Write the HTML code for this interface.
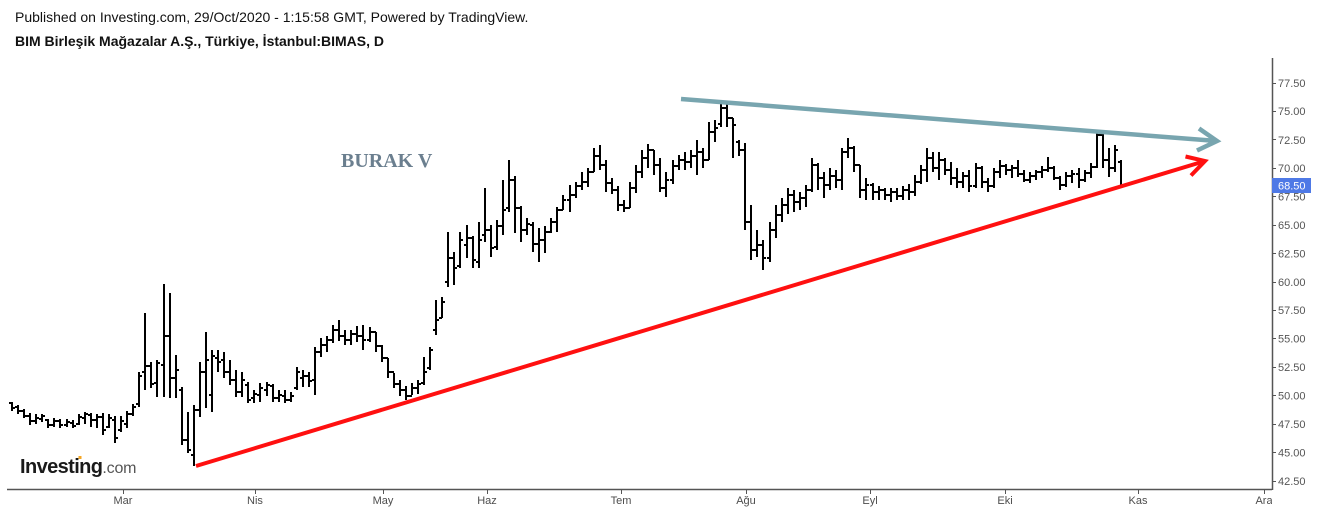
<!DOCTYPE html>
<html>
<head>
<meta charset="utf-8">
<style>
html,body{margin:0;padding:0;background:#fff;}
body{width:1318px;height:513px;overflow:hidden;position:relative;}
svg{position:absolute;left:0;top:0;}
</style>
</head>
<body>
<svg width="1318" height="513" viewBox="0 0 1318 513" xmlns="http://www.w3.org/2000/svg">
<defs>
<clipPath id="plot"><rect x="0" y="0" width="1272" height="513"/></clipPath>
</defs>
<rect width="1318" height="513" fill="#fff"/>
<text x="15" y="22" font-family="Liberation Sans, Arial, sans-serif" font-size="14" fill="#111">Published on Investing.com, 29/Oct/2020 - 1:15:58 GMT, Powered by TradingView.</text>
<text x="15" y="46" font-family="Liberation Sans, Arial, sans-serif" font-size="14" font-weight="bold" fill="#111">BIM Birleşik Mağazalar A.Ş., Türkiye, İstanbul:BIMAS, D</text>
<line x1="7" y1="489.5" x2="1272" y2="489.5" stroke="#555" stroke-width="1.5"/>
<line x1="1272.5" y1="58" x2="1272.5" y2="490" stroke="#555" stroke-width="1.5"/>
<g stroke="#555" stroke-width="1">
<line x1="1272" y1="83.5" x2="1276" y2="83.5"/>
<line x1="1272" y1="111.5" x2="1276" y2="111.5"/>
<line x1="1272" y1="139.5" x2="1276" y2="139.5"/>
<line x1="1272" y1="168.5" x2="1276" y2="168.5"/>
<line x1="1272" y1="196.5" x2="1276" y2="196.5"/>
<line x1="1272" y1="225.5" x2="1276" y2="225.5"/>
<line x1="1272" y1="253.5" x2="1276" y2="253.5"/>
<line x1="1272" y1="282.5" x2="1276" y2="282.5"/>
<line x1="1272" y1="310.5" x2="1276" y2="310.5"/>
<line x1="1272" y1="338.5" x2="1276" y2="338.5"/>
<line x1="1272" y1="367.5" x2="1276" y2="367.5"/>
<line x1="1272" y1="395.5" x2="1276" y2="395.5"/>
<line x1="1272" y1="424.5" x2="1276" y2="424.5"/>
<line x1="1272" y1="452.5" x2="1276" y2="452.5"/>
<line x1="1272" y1="481.5" x2="1276" y2="481.5"/>
</g>
<g font-family="Liberation Sans, Arial, sans-serif" font-size="11" fill="#555">
<text x="1278" y="87">77.50</text>
<text x="1278" y="115">75.00</text>
<text x="1278" y="144">72.50</text>
<text x="1278" y="172">70.00</text>
<text x="1278" y="200.5">67.50</text>
<text x="1278" y="229">65.00</text>
<text x="1278" y="257.5">62.50</text>
<text x="1278" y="286">60.00</text>
<text x="1278" y="314">57.50</text>
<text x="1278" y="342.5">55.00</text>
<text x="1278" y="371">52.50</text>
<text x="1278" y="399.5">50.00</text>
<text x="1278" y="428">47.50</text>
<text x="1278" y="456.5">45.00</text>
<text x="1278" y="485">42.50</text>
</g>
<rect x="1272" y="178" width="39" height="15" fill="#4e79e6"/>
<text x="1278" y="189.5" font-family="Liberation Sans, Arial, sans-serif" font-size="11" fill="#fff">68.50</text>
<g stroke="#555" stroke-width="1">
<line x1="123.5" y1="489" x2="123.5" y2="494"/>
<line x1="255.5" y1="489" x2="255.5" y2="494"/>
<line x1="383.5" y1="489" x2="383.5" y2="494"/>
<line x1="487.5" y1="489" x2="487.5" y2="494"/>
<line x1="621.5" y1="489" x2="621.5" y2="494"/>
<line x1="746.5" y1="489" x2="746.5" y2="494"/>
<line x1="870.5" y1="489" x2="870.5" y2="494"/>
<line x1="1005.5" y1="489" x2="1005.5" y2="494"/>
<line x1="1138.5" y1="489" x2="1138.5" y2="494"/>
<line x1="1264.5" y1="489" x2="1264.5" y2="494"/>
</g>
<g font-family="Liberation Sans, Arial, sans-serif" font-size="11" fill="#4d4d4d" text-anchor="middle" clip-path="url(#plot)">
<text x="123" y="504">Mar</text>
<text x="255" y="504">Nis</text>
<text x="383" y="504">May</text>
<text x="487" y="504">Haz</text>
<text x="621" y="504">Tem</text>
<text x="746" y="504">Ağu</text>
<text x="870" y="504">Eyl</text>
<text x="1005" y="504">Eki</text>
<text x="1138" y="504">Kas</text>
<text x="1264" y="504">Ara</text>
</g>
<text x="20" y="473" font-family="Liberation Sans, Arial, sans-serif" font-size="20" font-weight="bold" fill="#1a1a1a" letter-spacing="-0.6">Investing<tspan font-size="16" font-weight="normal" fill="#555" letter-spacing="-0.2">.com</tspan></text>
<rect x="78.5" y="456" width="3" height="3" fill="#f5a623"/>
<text x="341" y="167" font-family="Liberation Serif, Times New Roman, serif" font-size="20" font-weight="bold" fill="#6b7f8f">BURAK V</text>
<path fill="none" stroke="#000" stroke-width="2" d="M12 402V411M9 403H12M12 408H15M18 405V414M15 407H18M18 411H21M24 409V418M21 411H24M24 416H27M30 413V425M27 416H30M30 421H33M36 414V424M33 421H36M36 418H39M42 414V422M39 419H42M42 416H45M48 419V428M45 420H48M48 425H51M54 418V427M51 425H54M54 421H57M60 419V428M57 421H60M60 425H63M67 419V427M64 425H67M67 422H70M73 420V428M70 423H73M73 426H76M79 414V425M76 424H79M79 417H82M85 412V424M82 418H85M85 414H88M91 413V427M88 415H91M91 420H94M97 414V428M94 420H97M97 417H100M103 413V435M100 417H103M103 430H106M109 414V428M106 427H109M109 418H112M115 416V443M112 420H115M115 438H118M121 416V432M118 430H121M121 421H124M127 411V428M124 424H127M127 414H130M133 404V416M130 414H133M133 407H136M139 372V407M136 404H139M139 376H142M145 313V390M142 372H145M145 366H148M151 362V388M148 366H151M151 384H154M157 360V397M154 383H157M157 363H160M164 284V397M161 365H164M164 336H167M170 293V398M167 336H170M170 378H173M176 355V398M173 378H176M176 370H179M182 387V445M179 390H182M182 440H185M188 412V453M185 440H188M188 450H191M194 405V466M191 455H194M194 410H197M200 362V417M197 410H200M200 372H203M206 332V408M203 372H206M206 360H209M212 350V412M209 395H212M212 356H215M218 350V372M215 358H218M218 362H221M224 352V378M221 360H224M224 372H227M230 360V385M227 372H230M230 380H233M236 370V397M233 380H236M236 392H239M242 372V397M239 392H242M242 380H245M248 382V403M245 385H248M248 400H251M254 390V403M251 398H254M254 394H257M260 383V402M257 395H260M260 388H263M267 382V396M264 390H267M267 385H270M273 384V402M270 386H273M273 398H276M279 390V402M276 398H279M279 395H282M285 390V403M282 396H285M285 400H288M291 392V402M288 400H291M291 396H294M297 367V390M294 388H297M297 372H300M303 370V387M300 378H303M303 376H306M309 372V387M306 376H309M309 381H312M315 347V395M312 380H315M315 352H318M321 338V357M318 352H321M321 345H324M327 336V352M324 345H327M327 340H330M333 325V343M330 340H333M333 330H336M339 320V341M336 330H339M339 336H342M345 330V345M342 336H345M345 340H348M351 330V345M348 340H351M351 334H354M357 326V342M354 334H357M357 336H360M363 325V350M360 336H363M363 340H366M370 327V342M367 340H370M370 332H373M376 332V352M373 332H376M376 346H379M382 345V362M379 346H382M382 358H385M388 358V378M385 358H388M388 372H391M394 373V388M391 372H394M394 384H397M400 380V396M397 384H400M400 390H403M406 386V400M403 390H406M406 396H409M412 383V395M409 396H412M412 388H415M418 380V394M415 388H418M418 384H421M424 357V385M421 383H424M424 372H427M430 347V370M427 368H430M430 350H433M436 300V335M433 330H436M436 320H439M442 297V318M439 318H442M442 302H445M448 232V287M445 282H448M448 258H451M454 252V285M451 258H454M454 268H457M460 232V268M457 266H460M460 240H463M467 225V258M464 245H467M467 238H470M473 236V268M470 238H473M473 260H476M479 222V268M476 262H479M479 240H482M485 188V242M482 235H485M485 230H488M491 225V257M488 230H491M491 248H494M497 220V250M494 247H497M497 226H500M503 180V235M500 226H503M503 210H506M509 160V212M506 208H509M509 180H512M515 176V233M512 180H515M515 208H518M521 206V242M518 208H521M521 230H524M527 218V235M524 230H527M527 224H530M533 222V252M530 225H533M533 244H536M539 228V262M536 244H539M539 240H542M545 226V253M542 240H545M545 232H548M551 218V233M548 232H551M551 222H554M557 207V232M554 222H557M557 210H560M563 195V210M560 210H563M563 200H566M570 185V212M567 200H570M570 195H573M576 182V198M573 195H576M576 186H579M582 172V190M579 186H582M582 182H585M588 168V187M585 182H588M588 172H591M594 148V172M591 172H594M594 156H597M600 145V170M597 156H600M600 165H603M606 160V192M603 165H606M606 183H609M612 178V194M609 183H612M612 190H615M618 186V211M615 190H618M618 205H621M624 200V212M621 205H624M624 208H627M630 182V208M627 208H630M630 188H633M636 165V193M633 188H636M636 172H639M642 150V178M639 172H642M642 158H645M648 144V168M645 158H648M648 150H651M654 150V175M651 150H654M654 165H657M660 158V192M657 165H660M660 188H663M666 172V197M663 188H666M666 180H669M673 160V184M670 180H673M673 166H676M679 155V170M676 166H679M679 160H682M685 152V170M682 160H685M685 162H688M691 150V168M688 162H691M691 156H694M697 140V175M694 156H697M697 152H700M703 148V168M700 152H703M703 160H706M709 122V160M706 160H709M709 132H712M715 120V142M712 132H715M715 128H718M721 101V127M718 124H721M721 108H724M727 104V127M724 108H727M727 118H730M733 118V158M730 118H733M733 125H736M739 140V156M736 142H739M739 150H742M745 143V230M742 150H745M745 222H748M751 205V260M748 222H751M751 250H754M757 230V257M754 250H757M757 245H760M763 240V270M760 245H763M763 258H766M770 222V262M767 258H770M770 230H773M776 205V238M773 230H776M776 215H779M782 198V222M779 215H782M782 205H785M788 188V214M785 205H788M788 195H791M794 190V212M791 195H794M794 202H797M800 192V210M797 202H800M800 198H803M806 185V207M803 198H806M806 190H809M812 158V192M809 190H812M812 165H815M818 163V190M815 165H818M818 178H821M824 172V198M821 178H824M824 185H827M830 168V190M827 185H830M830 176H833M836 170V188M833 176H836M836 180H839M842 148V190M839 180H842M842 152H845M848 138V158M845 152H848M848 148H851M854 146V172M851 148H854M854 165H857M860 165V198M857 165H860M860 190H863M866 178V200M863 190H866M866 185H869M873 183V200M870 185H873M873 192H876M879 186V200M876 192H879M879 190H882M885 188V200M882 190H885M885 195H888M891 188V202M888 195H891M891 192H894M897 188V200M894 192H897M897 196H900M903 186V200M900 196H903M903 190H906M909 184V200M906 190H909M909 192H912M915 175V196M912 192H915M915 182H918M921 165V184M918 182H921M921 170H924M927 148V182M924 170H927M927 158H930M933 152V172M930 158H933M933 168H936M939 152V180M936 168H939M939 160H942M945 158V175M942 160H945M945 170H948M951 162V185M948 170H951M951 178H954M957 168V188M954 178H957M957 182H960M963 172V188M960 182H963M963 176H966M969 170V192M966 176H969M969 186H972M976 163V188M973 186H976M976 168H979M982 166V188M979 168H982M982 182H985M988 178V192M985 182H988M988 186H991M994 168V188M991 186H994M994 172H997M1000 160V178M997 172H1000M1000 166H1003M1006 164V175M1003 166H1006M1006 170H1009M1012 165V178M1009 170H1012M1012 168H1015M1018 160V177M1015 168H1018M1018 174H1021M1024 170V182M1021 174H1024M1024 180H1027M1030 172V183M1027 180H1030M1030 176H1033M1036 170V180M1033 176H1036M1036 172H1039M1042 166V178M1039 172H1042M1042 170H1045M1048 157V172M1045 170H1048M1048 168H1051M1054 166V180M1051 168H1054M1054 178H1057M1060 176V190M1057 178H1060M1060 185H1063M1066 172V187M1063 185H1066M1066 176H1069M1072 170V183M1069 176H1072M1072 174H1075M1079 168V188M1076 174H1079M1079 180H1082M1085 170V182M1082 180H1085M1085 173H1088M1091 163V178M1088 173H1091M1091 167H1094M1097 133V168M1094 167H1097M1097 135H1100M1103 133V168M1100 135H1103M1103 160H1106M1109 148V177M1106 160H1109M1109 168H1112M1115 145V172M1112 168H1115M1115 150H1118M1121 160V187M1118 162H1121M1121 186H1124"/>
<g fill="none" stroke="#78a5af" stroke-width="4.5">
<line x1="681" y1="99" x2="1217" y2="141"/>
<polyline points="1199,128.5 1217,141 1197,150.5"/>
</g>
<g fill="none" stroke="#ff1010" stroke-width="4">
<line x1="196" y1="466" x2="1205" y2="161"/>
<polyline points="1185.5,156.5 1205,161 1191,175.5"/>
</g>
</svg>
</body>
</html>
